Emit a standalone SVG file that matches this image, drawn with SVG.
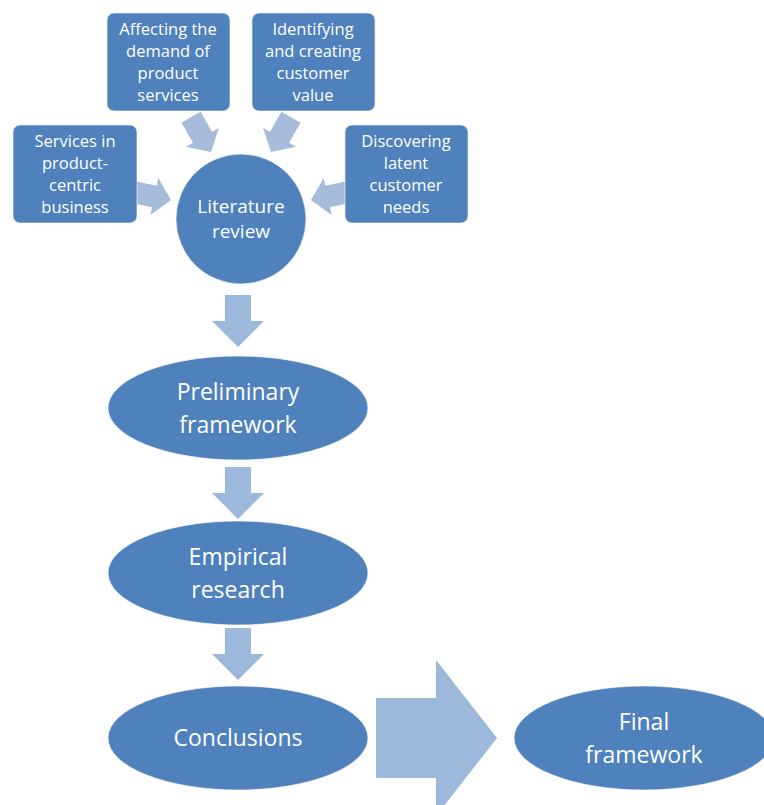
<svg xmlns="http://www.w3.org/2000/svg" width="764" height="805" viewBox="0 0 764 805">
  <defs>
    <!-- block arrow pointing right, tip at origin -->
    <path id="smallArrow" d="M-40,-11 L-17,-11 L-17,-19 L0,0 L-17,19 L-17,11 L-40,11 Z"/>
    <path id="downArrow" d="M-13,0 L13,0 L13,26 L26,26 L0,52 L-26,26 L-13,26 Z"/>
  </defs>
  <style>
    .box { fill: #4F81BD; stroke: #ffffff; stroke-opacity: 0.6; stroke-width: 1; }
    .oval { fill: #4F81BD; stroke: #ffffff; stroke-opacity: 0.6; stroke-width: 1; }
    .arrow { fill: #A7BCDA; }
    .flow { fill: #9CB9DB; }
    text { fill: #ffffff; font-family: "Open Sans", "Liberation Sans", sans-serif; text-anchor: middle; }
    .t16 { font-size: 16.5px; }
    .t20 { font-size: 19px; }
    .t24 { font-size: 23px; }
  </style>
  <rect width="764" height="805" fill="#ffffff"/>

  <!-- connectors -->
  <g id="connectors">
    <use href="#smallArrow" class="arrow" transform="translate(171,200) rotate(12)"/>
    <use href="#smallArrow" class="arrow" transform="translate(211,152) rotate(60)"/>
    <use href="#smallArrow" class="arrow" transform="translate(271,152) rotate(120)"/>
    <use href="#smallArrow" class="arrow" transform="translate(311,200) rotate(168)"/>
    <use href="#downArrow" class="flow" transform="translate(238,295)"/>
    <use href="#downArrow" class="flow" transform="translate(238,467)"/>
    <use href="#downArrow" class="flow" transform="translate(238,628)"/>
    <path class="flow" d="M376,698 L436,698 L436,660 L497,738 L436,816 L436,778 L376,778 Z"/>
  </g>

  <g id="services">
    <rect class="box" x="13" y="125" width="124" height="98" rx="7"/>
    <text class="t16"><tspan x="75" y="147">Services in</tspan><tspan x="75" y="169">product-</tspan><tspan x="75" y="191">centric</tspan><tspan x="75" y="213">business</tspan></text>
  </g>
  <g id="affecting">
    <rect class="box" x="107" y="13" width="123" height="98" rx="7"/>
    <text class="t16"><tspan x="168" y="35">Affecting the</tspan><tspan x="168" y="57">demand of</tspan><tspan x="168" y="79">product</tspan><tspan x="168" y="101">services</tspan></text>
  </g>
  <g id="identifying">
    <rect class="box" x="252" y="13" width="123" height="98" rx="7"/>
    <text class="t16"><tspan x="313" y="35">Identifying</tspan><tspan x="313" y="57">and creating</tspan><tspan x="313" y="79">customer</tspan><tspan x="313" y="101">value</tspan></text>
  </g>
  <g id="discovering">
    <rect class="box" x="345" y="125" width="123" height="98" rx="7"/>
    <text class="t16"><tspan x="406" y="147">Discovering</tspan><tspan x="406" y="169">latent</tspan><tspan x="406" y="191">customer</tspan><tspan x="406" y="213">needs</tspan></text>
  </g>
  <g id="literature">
    <circle class="oval" cx="241" cy="219" r="65"/>
    <text class="t20"><tspan x="241" y="213">Literature</tspan><tspan x="241" y="238">review</tspan></text>
  </g>
  <g id="preliminary">
    <ellipse class="oval" cx="238" cy="408" rx="130" ry="52"/>
    <text class="t24"><tspan x="238" y="400">Preliminary</tspan><tspan x="238" y="433">framework</tspan></text>
  </g>
  <g id="empirical">
    <ellipse class="oval" cx="238" cy="573" rx="130" ry="52"/>
    <text class="t24"><tspan x="238" y="565">Empirical</tspan><tspan x="238" y="598">research</tspan></text>
  </g>
  <g id="conclusions">
    <ellipse class="oval" cx="238" cy="738" rx="130" ry="52"/>
    <text class="t24"><tspan x="238" y="746">Conclusions</tspan></text>
  </g>
  <g id="final">
    <ellipse class="oval" cx="644" cy="738" rx="130" ry="52"/>
    <text class="t24"><tspan x="644" y="730">Final</tspan><tspan x="644" y="763">framework</tspan></text>
  </g>
</svg>
